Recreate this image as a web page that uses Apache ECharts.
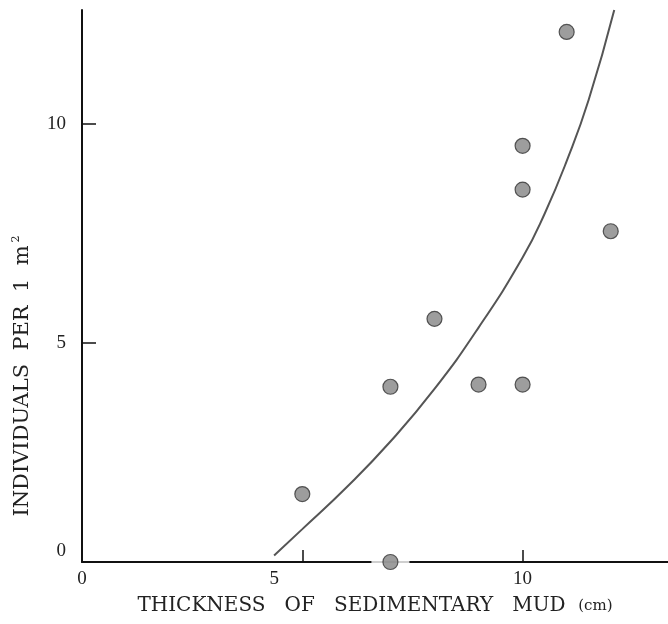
<!DOCTYPE html>
<html>
<head>
<meta charset="utf-8">
<script src="https://cdn.jsdelivr.net/npm/echarts@6/dist/echarts.min.js"></script>
<style>html,body{margin:0;padding:0;background:#fff}#c{width:668px;height:624px}</style>
</head>
<body>
<div id="c"></div>
<script>
// Observed points: thickness (cm), individuals per 1 m^2
var thickness = [5, 7, 7, 8, 9, 10, 10, 10, 11, 12];
var individuals = [1.55, 0, 4.0, 5.55, 4.05, 4.05, 8.5, 9.5, 12.1, 7.55];
// Fitted curve
var curveX = [4.36, 5, 6, 7, 8, 9, 10, 10.5, 11, 11.5, 12.08];
var curveY = [0.15, 0.75, 1.7, 2.75, 3.95, 5.35, 6.95, 7.95, 9.15, 10.55, 12.6];
var xTicks = [5, 10];
var xLabels = [0, 5, 10];
var yTicks = [5, 10];
var yLabels = [0, 5, 10];

var pts = thickness.map(function (x, i) { return [x, individuals[i]]; });
var curve = curveX.map(function (x, i) { return [x, curveY[i]]; });
var gapPts = pts.filter(function (p) { return p[1] === 0; });

var font = 'Liberation Serif';
var tfont = 'DejaVu Serif';
var chart = echarts.init(document.getElementById('c'));
chart.setOption({
  backgroundColor: '#fff',
  animation: false,
  grid: { left: 82, right: 0, top: 10, bottom: 62 },
  xAxis: {
    type: 'value', min: 0, max: 13.3, interval: 5,
    axisLine: { show: true, lineStyle: { color: '#111', width: 2 } },
    axisTick: { show: true, inside: true, length: 12, customValues: xTicks, lineStyle: { color: '#111', width: 1.5 } },
    splitLine: { show: false },
    axisLabel: {
      fontFamily: font, fontSize: 19, color: '#222', margin: 8,
      customValues: xLabels,
      formatter: function (v) { return v === 5 ? '{s|5}' : String(v); },
      rich: { s: { fontFamily: font, fontSize: 19, color: '#222', padding: [0, 56, 0, 0] } }
    },
    name: 'THICKNESS   OF   SEDIMENTARY   MUD  {u|(cm)}',
    nameLocation: 'middle', nameGap: 34,
    nameTextStyle: {
      fontFamily: tfont, fontSize: 20, color: '#222',
      rich: { u: { fontFamily: tfont, fontSize: 15, color: '#222' } }
    }
  },
  yAxis: {
    type: 'value', min: 0, max: 12.6, interval: 5,
    axisLine: { show: true, lineStyle: { color: '#111', width: 2 } },
    axisTick: { show: true, inside: true, length: 14, customValues: yTicks, lineStyle: { color: '#111', width: 1.5 } },
    splitLine: { show: false },
    axisLabel: {
      fontFamily: font, fontSize: 19, color: '#222', margin: 16,
      customValues: yLabels,
      formatter: function (v) { return v === 0 ? '{z|0}' : String(v); },
      rich: { z: { fontFamily: font, fontSize: 19, color: '#222', padding: [0, 0, 22, 0] } }
    },
    name: 'INDIVIDUALS  PER  1  m{s|2}',
    nameLocation: 'middle', nameGap: 48, nameRotate: 90,
    nameTextStyle: {
      fontFamily: tfont, fontSize: 21, color: '#222', padding: [0, 180, 0, 0],
      rich: { s: { fontFamily: tfont, fontSize: 11, color: '#222', verticalAlign: 'top', padding: [0, 0, 12, 3] } }
    }
  },
  series: [
    {
      type: 'scatter', data: gapPts, symbol: 'rect', symbolSize: [38, 6],
      itemStyle: { color: '#fff' }, z: 1, silent: true
    },
    {
      type: 'line', data: curve, smooth: true, showSymbol: false,
      lineStyle: { color: '#555', width: 2 }, z: 2
    },
    {
      type: 'scatter', data: pts, symbolSize: 15,
      itemStyle: { color: '#858585', borderColor: '#333', borderWidth: 1.2 }, z: 3
    }
  ]
});
</script>
</body>
</html>
